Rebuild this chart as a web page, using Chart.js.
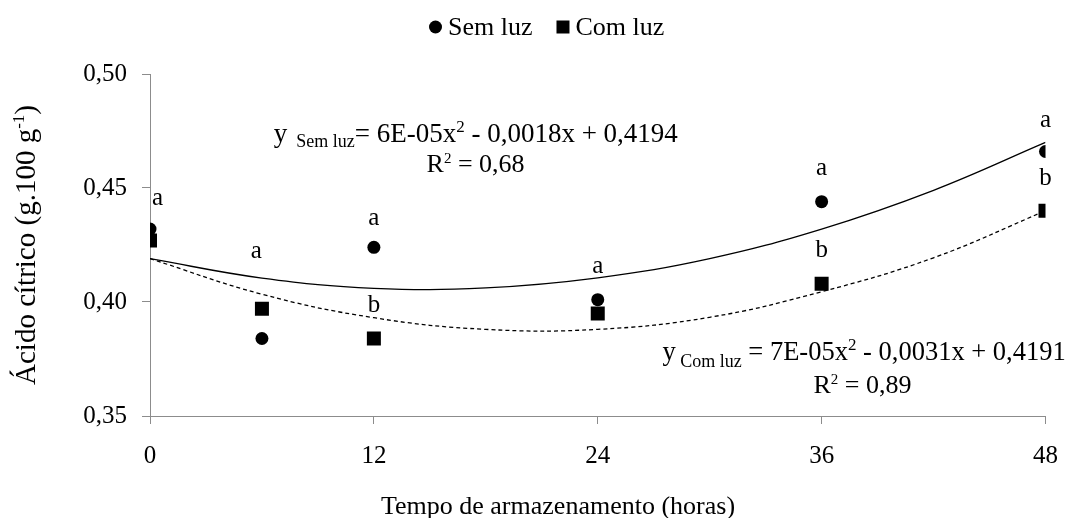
<!DOCTYPE html>
<html>
<head>
<meta charset="utf-8">
<script src="https://cdn.jsdelivr.net/npm/chart.js@4.4.1/dist/chart.umd.min.js"></script>
<style>
  html, body { margin: 0; padding: 0; background: #fff; }
  #wrap { width: 1075px; height: 518px; }
</style>
</head>
<body>
<div id="wrap"><canvas id="chart"></canvas></div>
<script>
// Tempo de armazenamento (horas)
let horas = [0, 6, 12, 24, 36, 48];
let semLuz = [0.432, 0.384, 0.424, 0.401, 0.444, 0.466];
let comLuz = [0.427, 0.397, 0.384, 0.395, 0.408, 0.440];

// trend lines
let trendX = [0, 6, 12, 18, 24, 30, 36, 42, 48];
let trendSem = [0.419, 0.4105, 0.406, 0.4062, 0.4106, 0.419, 0.432, 0.449, 0.470];
let trendCom = [0.419, 0.4034, 0.3931, 0.388, 0.388, 0.3933, 0.4045, 0.4194, 0.440];

let xTicks = [0, 12, 24, 36, 48];
let yTicks = [0.35, 0.40, 0.45, 0.50];
let yTickLabels = ["0,35", "0,40", "0,45", "0,50"];

// significance letters
let letras = ["a", "a", "a", "b", "a", "a", "b", "a", "b"];
let letrasX = [0.4, 5.7, 12, 12, 24, 36, 36, 48, 48];
let letrasY = [0.4426, 0.4194, 0.4339, 0.3958, 0.4128, 0.4558, 0.4198, 0.4768, 0.4514];

const FONT = "'Liberation Serif', 'Times New Roman', serif";
const AXIS = "#8c8c8c";

function pts(xs, ys) {
    return xs.map((x, i) => ({ x: x, y: ys[i] }));
}

// draws a run of text pieces [text, size, dy] starting at x
function drawRich(ctx, x, y, parts) {
    parts.forEach(p => {
        ctx.font = p[1] + "px " + FONT;
        ctx.fillText(p[0], x, y + p[2]);
        x += ctx.measureText(p[0]).width;
    });
}
function richWidth(ctx, parts) {
    let w = 0;
    parts.forEach(p => {
        ctx.font = p[1] + "px " + FONT;
        w += ctx.measureText(p[0]).width;
    });
    return w;
}

const extras = {
    id: "extras",
    afterDraw(chart) {
        let ctx = chart.ctx;
        let xs = chart.scales.x, ys = chart.scales.y;
        ctx.save();
        ctx.fillStyle = "#000";
        ctx.textBaseline = "alphabetic";

        // letters
        ctx.textAlign = "center";
        ctx.font = "25px " + FONT;
        letras.forEach((l, i) => {
            ctx.fillText(l, xs.getPixelForValue(letrasX[i]), ys.getPixelForValue(letrasY[i]));
        });

        // equations
        ctx.textAlign = "left";
        drawRich(ctx, xs.getPixelForValue(6.63), ys.getPixelForValue(0.4702), [
            ["y", 27, 0], ["  Sem luz", 18, 5], ["= 6E-05x", 27, 0], ["2", 17, -10], [" - 0,0018x + 0,4194", 27, 0]
        ]);
        let r1 = [["R", 26, 0], ["2", 15, -9], [" = 0,68", 26, 0]];
        drawRich(ctx, xs.getPixelForValue(17.45) - richWidth(ctx, r1) / 2, ys.getPixelForValue(0.4571), r1);

        drawRich(ctx, xs.getPixelForValue(27.47), ys.getPixelForValue(0.3747), [
            ["y", 26.5, 0], [" Com luz", 18, 7], [" = 7E-05x", 26.5, 0], ["2", 17, -10], [" - 0,0031x + 0,4191", 26.5, 0]
        ]);
        let r2 = [["R", 26, 0], ["2", 15, -9], [" = 0,89", 26, 0]];
        drawRich(ctx, xs.getPixelForValue(38.19) - richWidth(ctx, r2) / 2, ys.getPixelForValue(0.3603), r2);

        // y axis title
        let yt = [["Ácido cítrico (g.100 g", 29, 0], ["-1", 17, -11], [")", 29, 0]];
        ctx.save();
        ctx.translate(35, (chart.chartArea.top + chart.chartArea.bottom) / 2);
        ctx.rotate(-Math.PI / 2);
        drawRich(ctx, -richWidth(ctx, yt) / 2, 0, yt);
        ctx.restore();

        // x axis title
        ctx.textAlign = "center";
        ctx.font = "26px " + FONT;
        ctx.fillText("Tempo de armazenamento (horas)", 558, 514);

        // legend
        ctx.textAlign = "left";
        let items = [["Sem luz", "circle"], ["Com luz", "rect"]];
        ctx.font = "26px " + FONT;
        let lx = 429;
        items.forEach(it => {
            if (it[1] === "circle") {
                ctx.beginPath();
                ctx.arc(lx + 6.5, 27, 6.5, 0, Math.PI * 2);
                ctx.fill();
            } else {
                ctx.fillRect(lx, 20.5, 13, 13);
            }
            ctx.fillText(it[0], lx + 19, 35);
            lx += 19 + ctx.measureText(it[0]).width + 24;
        });
        ctx.restore();
    }
};

new Chart(document.getElementById("chart"), {
    type: "scatter",
    data: {
        datasets: [
            {
                label: "Sem luz",
                data: pts(horas, semLuz),
                pointStyle: "circle",
                pointRadius: 6.5,
                pointBorderWidth: 0,
                backgroundColor: "#000",
                borderColor: "#000"
            },
            {
                label: "Com luz",
                data: pts(horas, comLuz),
                pointStyle: "rect",
                pointRadius: 9.9,
                pointBorderWidth: 0,
                backgroundColor: "#000",
                borderColor: "#000"
            },
            {
                label: "Tendência sem luz",
                data: pts(trendX, trendSem),
                showLine: true,
                tension: 0.4,
                pointRadius: 0,
                borderWidth: 1.3,
                borderColor: "#000"
            },
            {
                label: "Tendência com luz",
                data: pts(trendX, trendCom),
                showLine: true,
                tension: 0.4,
                pointRadius: 0,
                borderWidth: 1.3,
                borderDash: [4, 3],
                borderColor: "#000"
            }
        ]
    },
    options: {
        responsive: true,
        maintainAspectRatio: false,
        animation: false,
        layout: { padding: { top: 74, right: 20, left: 0, bottom: 0 } },
        plugins: {
            legend: { display: false },
            tooltip: { enabled: false }
        },
        scales: {
            x: {
                type: "linear",
                min: 0,
                max: 48,
                afterBuildTicks: s => { s.ticks = xTicks.map(v => ({ value: v })); },
                afterFit: s => { s.height = 102; },
                grid: { drawOnChartArea: false, drawTicks: true, tickLength: 8, color: AXIS },
                border: { color: AXIS },
                ticks: { color: "#000", padding: 17, font: { family: FONT, size: 25 } }
            },
            y: {
                type: "linear",
                min: 0.35,
                max: 0.50,
                afterBuildTicks: s => { s.ticks = yTicks.map(v => ({ value: v })); },
                afterFit: s => { s.width = 150; },
                grid: { drawOnChartArea: false, drawTicks: true, tickLength: 8, color: AXIS },
                border: { color: AXIS },
                ticks: {
                    color: "#000",
                    padding: 15,
                    font: { family: FONT, size: 25 },
                    callback: (v) => {
                        let i = yTicks.findIndex(t => Math.abs(t - v) < 1e-9);
                        return i >= 0 ? yTickLabels[i] : "";
                    }
                }
            }
        }
    },
    plugins: [extras]
});
</script>
</body>
</html>
